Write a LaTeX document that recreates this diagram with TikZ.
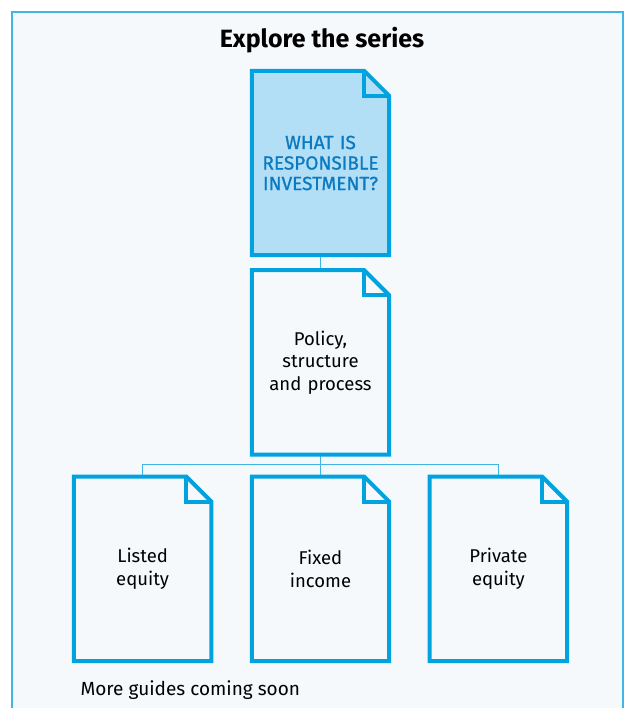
\documentclass[tikz,border=0pt]{standalone}
\usepackage{fontspec}
\setmainfont{Fira Sans}
\newfontfamily\firasemi{Fira Sans}[FakeBold=0.9]
\usetikzlibrary{positioning,backgrounds}
\definecolor{rlblue}{HTML}{00A3E0}
\definecolor{rllight}{HTML}{B3DFF6}
\definecolor{rltext}{HTML}{0B7AC0}
\definecolor{rlline}{HTML}{3FB6E6}
\definecolor{rlback}{HTML}{F6F9FC}
\tikzset{
  doc/.style={minimum width=137pt, minimum height=184pt, inner sep=0pt,
    text width=134pt, align=center, font=\fontsize{18.5}{22.5}\selectfont},
  docline/.style={draw=rlblue, line width=4pt, line join=miter},
  link/.style={draw=rlline, line width=1.5pt},
  frame/.style={draw=rlline, line width=1.5pt}
}
\begin{document}
\begin{tikzpicture}[x=1pt,y=-1pt]
  \useasboundingbox (0,0) rectangle (627,708);
  % frame and title
  \begin{pgfonlayer}{background}
    \fill[rlback] (12,12) rectangle (623,708);
  \end{pgfonlayer}
  \draw[frame] (12,708) |- (623,12) -- (623,708);
  \node[font=\fontsize{25}{29}\selectfont\bfseries] (title) at (322,40) {Explore the series};

  % the guides
  \node[doc, text=rltext, font=\fontsize{19}{20.5}\selectfont\firasemi] (what) at (320.5,163)
    {WHAT IS\\RESPONSIBLE\\INVESTMENT?};
  \node[doc, below=15pt of what] (pol) {Policy,\\structure\\and process};
  \node[doc, below=22pt of pol] (fixed) {Fixed\\income};
  \node[doc, left=40.5pt of fixed] (listed) {Listed\\equity};
  \node[doc, right=40.5pt of fixed] (private) {Private\\equity};
  \node[anchor=base west, font=\fontsize{19}{22}\selectfont] (more) at (77,695)
    {More guides coming soon};

  % connectors
  \coordinate[below=10pt of pol] (split);
  \draw[link] (what) -- (pol);
  \draw[link] (pol) -- (split);
  \draw[link] (split) -| (listed);
  \draw[link] (split) -| (fixed);
  \draw[link] (split) -| (private);

  \begin{pgfonlayer}{background}
    \fill[rllight] (what.south west) -- (what.north west) -- ([xshift=-25pt]what.north east)
      -- ([yshift=-25pt]what.north east) -- (what.south east) -- cycle;
  \end{pgfonlayer}
  \foreach \n in {what,pol,listed,fixed,private}{
    \draw[docline] (\n.south west) -- (\n.north west) -- ([xshift=-25pt]\n.north east)
      -- ([yshift=-25pt]\n.north east) -- (\n.south east) -- cycle;
    \draw[docline] ([xshift=-25pt]\n.north east) |- ([yshift=-25pt]\n.north east);
  }
\end{tikzpicture}
\end{document}
